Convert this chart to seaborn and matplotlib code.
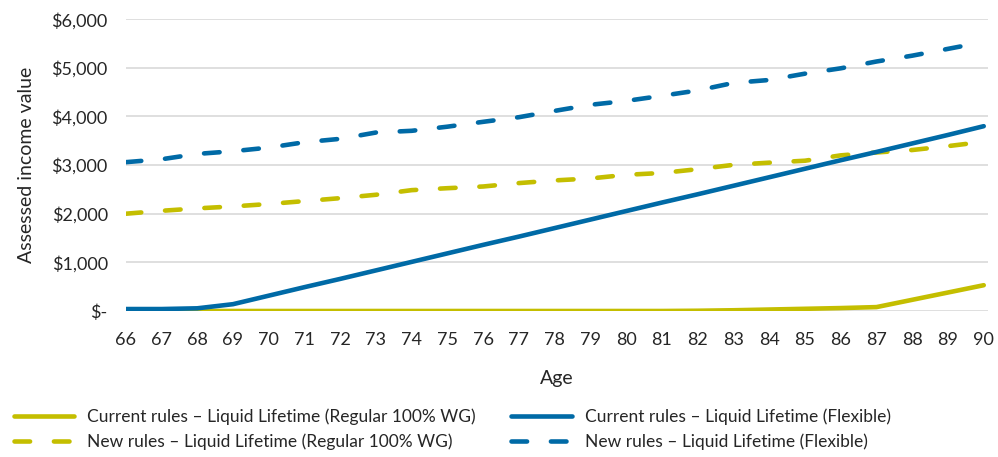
import pandas as pd
import matplotlib.pyplot as plt
import seaborn as sns
from matplotlib.ticker import FuncFormatter

ages = list(range(66, 91))

current_regular = [0, 0, 0, 0, 0, 0, 0, 0, 0, 0, 0, 0, 0, 0, 0, 0,
                   5, 15, 30, 45, 60, 80, 230, 380, 530]
current_flexible = [40, 40, 55, 140, 315, 490, 660, 835, 1010, 1185, 1360, 1530, 1705,
                    1880, 2055, 2230, 2400, 2575, 2750, 2925, 3100, 3270, 3445, 3620, 3800]
new_regular = [2000, 2060, 2110, 2150, 2200, 2260, 2320, 2390, 2485, 2525, 2560, 2630, 2685,
               2725, 2800, 2838, 2916, 3005, 3050, 3090, 3200, 3260, 3310, 3390, 3480]
new_flexible = [3060, 3120, 3230, 3285, 3360, 3470, 3540, 3670, 3705, 3790, 3890, 3985, 4115,
                4240, 4320, 4425, 4535, 4690, 4750, 4880, 4990, 5130, 5250, 5390, 5530]

labels = ["Current rules – Liquid Lifetime (Regular 100% WG)",
          "New rules – Liquid Lifetime (Regular 100% WG)",
          "Current rules – Liquid Lifetime (Flexible)",
          "New rules – Liquid Lifetime (Flexible)"]

yellow = "#C4BE00"
blue = "#006AA6"

df = pd.DataFrame({
    "age": ages,
    labels[0]: current_regular,
    labels[1]: new_regular,
    labels[2]: current_flexible,
    labels[3]: new_flexible,
})

sns.set_style("white")
plt.rcParams['font.family'] = ['Lato', 'DejaVu Sans']

fig, ax = plt.subplots(figsize=(9.98, 4.57), dpi=100)
fig.subplots_adjust(left=0.126, right=0.99, top=0.958, bottom=0.3195)

dash = (0, (3.4, 5.2))
styles = [(yellow, "-"), (yellow, dash), (blue, "-"), (blue, dash)]
for name, (color, ls) in zip(labels, styles):
    sns.lineplot(data=df, x="age", y=name, ax=ax, color=color, linestyle=ls,
                 linewidth=3.3, label=name, solid_capstyle="round",
                 dash_capstyle="round")

ax.set_xlim(66, 90.12)
ax.set_ylim(0, 6000)
ax.set_xticks(ages)
ax.set_yticks(range(0, 6001, 1000))
ax.yaxis.set_major_formatter(FuncFormatter(lambda v, p: "$-" if v == 0 else f"${v:,.0f}"))
ax.grid(axis="y", color="#D9D9D9", linewidth=1.2)
ax.set_axisbelow(True)
for s in ax.spines.values():
    s.set_visible(False)
ax.tick_params(axis="both", length=0, labelsize=13, colors="#262626")
ax.tick_params(axis="y", pad=13)
ax.tick_params(axis="x", pad=15)

ax.set_xlabel("Age", fontsize=14, color="#262626", labelpad=16)
ax.set_ylabel("Assessed income value", fontsize=14, color="#262626", labelpad=12)

ax.get_legend().remove()
h, l = ax.get_legend_handles_labels()
fig.legend(h, l, loc="lower left", bbox_to_anchor=(-0.002, -0.018), ncol=2, frameon=False,
           fontsize=12.5, handlelength=3.5, handletextpad=0.75, columnspacing=2.0,
           labelspacing=0.45, labelcolor="#262626")

fig.savefig("out.png", dpi=100)
